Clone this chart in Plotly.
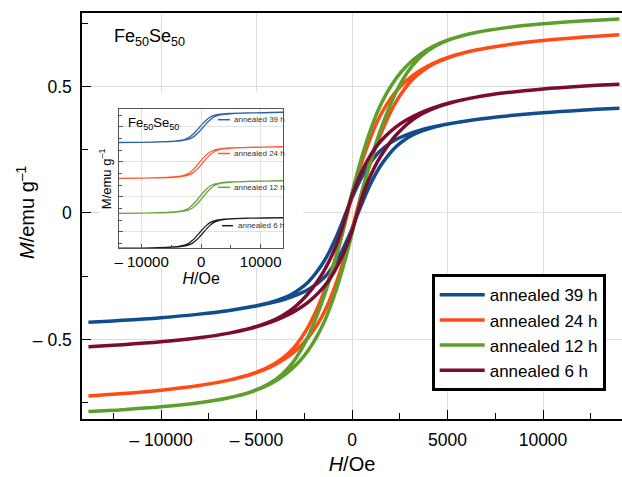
import plotly.graph_objects as go

FONT = "Liberation Sans, Arial, Helvetica, sans-serif"

# ---------------- main panel data (H in Oe, M in emu/g) ----------------
series_names = ["annealed 39 h", "annealed 24 h", "annealed 12 h", "annealed 6 h"]
series_colors = ["#114c8c", "#ff4b14", "#5c9f2b", "#7a0c30"]

# annealed 39 h
blue_M = [-0.4317, -0.4242, -0.4136, -0.3997, -0.3860, -0.3699, -0.3552, -0.3398, -0.3219,
          -0.3012, -0.2723, -0.2402, -0.1978, -0.1581, -0.1110, -0.0578, 0, 0.0553, 0.1062,
          0.1513, 0.1893, 0.2299, 0.2606, 0.2882, 0.3080, 0.3252, 0.3399, 0.3540, 0.3694,
          0.3825, 0.3958, 0.4059, 0.4138]
blue_H_asc = [-13800, -12000, -10000, -8000, -6500, -5174, -4236, -3488, -2824, -2260, -1712,
              -1280, -880, -580, -280, 20, 320, 620, 920, 1220, 1520, 1920, 2288, 2740, 3176,
              3712, 4364, 5226, 6500, 8000, 10000, 12000, 14000]
blue_H_desc = [-13800, -12000, -10000, -8000, -6500, -5226, -4364, -3712, -3176, -2740, -2288,
               -1920, -1520, -1220, -920, -620, -320, -20, 280, 580, 880, 1280, 1712, 2260,
               2824, 3488, 4236, 5174, 6500, 8000, 10000, 12000, 14000]

# annealed 24 h
orange_M = [-0.7227, -0.7134, -0.7002, -0.6816, -0.6615, -0.6353, -0.6079, -0.5766, -0.5389,
            -0.4955, -0.4379, -0.3788, -0.3062, -0.2423, -0.1700, -0.0890, 0, 0.0866, 0.1654,
            0.2357, 0.2979, 0.3685, 0.4260, 0.4820, 0.5242, 0.5609, 0.5913, 0.6180, 0.6435,
            0.6630, 0.6811, 0.6940, 0.7039]
orange_H_asc = [-13800, -12000, -10000, -8000, -6500, -5182, -4254, -3519, -2873, -2327, -1793,
                -1370, -970, -670, -370, -70, 230, 530, 830, 1130, 1430, 1830, 2207, 2673,
                3127, 3681, 4346, 5218, 6500, 8000, 10000, 12000, 14000]
orange_H_desc = [-13800, -12000, -10000, -8000, -6500, -5218, -4346, -3681, -3127, -2673,
                 -2207, -1830, -1430, -1130, -830, -530, -230, 70, 370, 670, 970, 1370, 1793,
                 2327, 2873, 3519, 4254, 5182, 6500, 8000, 10000, 12000, 14000]

# annealed 12 h
green_M = [-0.7846, -0.7770, -0.7658, -0.7496, -0.7310, -0.7047, -0.6748, -0.6391, -0.5950,
           -0.5447, -0.4780, -0.4106, -0.3292, -0.2587, -0.1800, -0.0937, 0, 0.0914, 0.1756,
           0.2524, 0.3212, 0.4006, 0.4663, 0.5314, 0.5805, 0.6235, 0.6583, 0.6875, 0.7132,
           0.7313, 0.7471, 0.7580, 0.7662]
green_H_asc = [-13800, -12000, -10000, -8000, -6500, -5179, -4248, -3509, -2857, -2305, -1766,
               -1340, -940, -640, -340, -40, 260, 560, 860, 1160, 1460, 1860, 2234, 2695,
               3143, 3691, 4352, 5221, 6500, 8000, 10000, 12000, 14000]
green_H_desc = [-13800, -12000, -10000, -8000, -6500, -5221, -4352, -3691, -3143, -2695,
                -2234, -1860, -1460, -1160, -860, -560, -260, 40, 340, 640, 940, 1340, 1766,
                2305, 2857, 3509, 4248, 5179, 6500, 8000, 10000, 12000, 14000]

# annealed 6 h
maroon_M = [-0.5281, -0.5204, -0.5091, -0.4930, -0.4756, -0.4534, -0.4315, -0.4080, -0.3812,
            -0.3521, -0.3148, -0.2772, -0.2304, -0.1880, -0.1373, -0.0761, 0, 0.0732, 0.1321,
            0.1809, 0.2218, 0.2668, 0.3030, 0.3389, 0.3669, 0.3927, 0.4153, 0.4364, 0.4577,
            0.4745, 0.4900, 0.5009, 0.5090]
maroon_H_asc = [-13800, -12000, -10000, -8000, -6500, -5178, -4244, -3502, -2846, -2290, -1748,
                -1320, -920, -620, -320, -20, 280, 580, 880, 1180, 1480, 1880, 2252, 2710,
                3154, 3698, 4356, 5222, 6500, 8000, 10000, 12000, 14000]
maroon_H_desc = [-13800, -12000, -10000, -8000, -6500, -5222, -4356, -3698, -3154, -2710,
                 -2252, -1880, -1480, -1180, -880, -580, -280, 20, 320, 620, 920, 1320, 1748,
                 2290, 2846, 3502, 4244, 5178, 6500, 8000, 10000, 12000, 14000]

main_x_ticks = [-10000, -5000, 0, 5000, 10000]
main_x_ticktext = ["\u2013 10000", "\u2013 5000", "0", "5000", "10000"]
main_x_minor = [-12500, -7500, -2500, 2500, 7500, 12500]
main_y_ticks = [-0.5, 0, 0.5]
main_y_ticktext = ["\u2013 0.5", "0", "0.5"]
main_y_minor = [-0.75, -0.25, 0.25, 0.75]

# ---------------- inset data (stacked, offset loops) ----------------
inset_names = ["annealed 39 h", "annealed 24 h", "annealed 12 h", "annealed 6 h"]
inset_colors = ["#2b62a5", "#ff5a32", "#64a83b", "#1e1e1e"]
inset_H_asc = [-13800, -7700, -4700, -3200, -2200, -1500, -900, -300, 300, 900, 1500,
               2100, 2800, 3800, 5300, 8300, 13800]
inset_H_desc = [-13800, -8300, -5300, -3800, -2800, -2100, -1500, -900, -300, 300, 900,
                1500, 2200, 3200, 4700, 7700, 13800]
inset_blue = [2.553, 2.566, 2.583, 2.605, 2.639, 2.691, 2.768, 2.867, 2.983, 3.099, 3.198,
              3.275, 3.327, 3.361, 3.383, 3.400, 3.413]
inset_orange = [1.527, 1.541, 1.559, 1.581, 1.617, 1.671, 1.752, 1.856, 1.977, 2.099, 2.202,
                2.283, 2.337, 2.373, 2.396, 2.414, 2.427]
inset_green = [0.524, 0.538, 0.557, 0.580, 0.617, 0.673, 0.757, 0.864, 0.990, 1.116, 1.223,
               1.307, 1.363, 1.400, 1.423, 1.442, 1.456]
inset_black = [-0.472, -0.459, -0.441, -0.420, -0.385, -0.332, -0.254, -0.154, -0.036, 0.082,
               0.182, 0.260, 0.313, 0.348, 0.369, 0.387, 0.400]
inset_x_ticks = [-10000, 0, 10000]
inset_x_ticktext = ["\u2013 10000", "0", "10000"]

fig = go.Figure()

main_sets = [
    (blue_H_desc, blue_H_asc, blue_M),
    (orange_H_desc, orange_H_asc, orange_M),
    (green_H_desc, green_H_asc, green_M),
    (maroon_H_desc, maroon_H_asc, maroon_M),
]
for (hd, ha, m), name, col in zip(main_sets, series_names, series_colors):
    x = list(reversed(hd)) + ha[1:]
    y = list(reversed(m)) + m[1:]
    fig.add_trace(go.Scatter(x=x, y=y, mode="lines", name=name,
                             line=dict(color=col, width=3.5, shape="spline", smoothing=1.0),
                             xaxis="x", yaxis="y"))

inset_sets = [inset_blue, inset_orange, inset_green, inset_black]
for m, name, col in zip(inset_sets, inset_names, inset_colors):
    x = list(reversed(inset_H_desc)) + inset_H_asc[1:]
    y = list(reversed(m)) + m[1:]
    fig.add_trace(go.Scatter(x=x, y=y, mode="lines", name=name, showlegend=False,
                             line=dict(color=col, width=1.3, shape="spline", smoothing=0.8),
                             xaxis="x2", yaxis="y2"))

W, H = 622, 477
ML, MR, MT, MB = 82, 0, 13, 58
PW, PH = W - ML - MR, H - MT - MB


def px(xp):
    return (xp - ML) / PW


def py(yp):
    return (H - MB - yp) / PH


shapes = [
    # white backing of the inset picture (hides main grid behind it)
    dict(type="rect", xref="x", yref="y", x0=-13200, x1=-2560, y0=-0.217, y1=0.478,
         fillcolor="white", line=dict(width=0), layer="between"),
]
annotations = [
    dict(text="<i>M</i>/emu g<sup>\u20131</sup>", xref="paper", yref="paper",
         x=px(25), y=py(212), xanchor="center", yanchor="middle", textangle=-90,
         showarrow=False, font=dict(family=FONT, size=20, color="black")),
    dict(text="Fe<sub>50</sub>Se<sub>50</sub>", xref="paper", yref="paper",
         x=px(112), y=py(37), xanchor="left", yanchor="middle", showarrow=False,
         font=dict(family=FONT, size=18, color="black")),
    dict(text="Fe<sub>50</sub>Se<sub>50</sub>", xref="paper", yref="paper",
         x=px(126), y=py(123), xanchor="left", yanchor="middle", showarrow=False,
         font=dict(family=FONT, size=13, color="black")),
]
inset_leg = [
    ("annealed 39 h", inset_colors[0], 218, 230, 119.7, 232),
    ("annealed 24 h", inset_colors[1], 218, 230, 153.5, 232),
    ("annealed 12 h", inset_colors[2], 218, 230, 187.3, 232),
    ("annealed 6 h", inset_colors[3], 222, 233, 225.7, 236),
]
for txt, col, x0, x1, yy, xt in inset_leg:
    shapes.append(dict(type="line", xref="paper", yref="paper", x0=px(x0), x1=px(x1),
                       y0=py(yy), y1=py(yy), line=dict(color=col, width=1.5), layer="above"))
    annotations.append(dict(text=txt, xref="paper", yref="paper", x=px(xt), y=py(yy),
                            xanchor="left", yanchor="middle", showarrow=False,
                            font=dict(family=FONT, size=8, color="#333333")))

axis_common = dict(showline=True, linecolor="black", linewidth=1.5, ticks="inside",
                   tickcolor="black", tickwidth=1.2, zeroline=False, showgrid=True,
                   gridcolor="#dcdcdc", gridwidth=1, automargin=False)

fig.update_layout(
    width=W, height=H,
    margin=dict(l=ML, r=MR, t=MT, b=MB),
    paper_bgcolor="white", plot_bgcolor="white",
    font=dict(family=FONT, color="black"),
    xaxis=dict(**axis_common, domain=[0, 1], anchor="y", range=[-14136, 14136],
               mirror=True, tickmode="array", tickvals=main_x_ticks,
               ticktext=main_x_ticktext, ticklen=9, ticklabelstandoff=4,
               tickfont=dict(size=17.5),
               minor=dict(tickmode="array", tickvals=main_x_minor, ticks="inside",
                          ticklen=6, tickcolor="black", showgrid=False),
               title=dict(text="<i>H</i>/Oe", font=dict(size=20), standoff=8)),
    yaxis=dict(**axis_common, domain=[0, 1], anchor="x", range=[-0.814, 0.79],
               tickmode="array", tickvals=main_y_ticks, ticktext=main_y_ticktext,
               ticklen=9, ticklabelstandoff=5, tickfont=dict(size=17.5),
               minor=dict(tickmode="array", tickvals=main_y_minor, ticks="inside",
                          ticklen=6, tickcolor="black", showgrid=False)),
    xaxis2=dict(showline=True, linecolor="#555555", linewidth=1, mirror=True,
                ticks="inside", ticklen=4, tickcolor="#555555", zeroline=False,
                showgrid=True, gridcolor="#e2e2e2", automargin=False,
                domain=[px(119), px(283.3)], anchor="y2", range=[-13800, 13800],
                tickmode="array", tickvals=inset_x_ticks, ticktext=inset_x_ticktext,
                tickfont=dict(size=15),
                minor=dict(tickmode="array", tickvals=[-5000, 5000], ticks="inside",
                           ticklen=3, tickcolor="#555555"),
                title=dict(text="<i>H</i>/Oe", font=dict(size=16), standoff=2)),
    yaxis2=dict(showline=True, linecolor="#555555", linewidth=1, mirror=True,
                ticks="inside", ticklen=4, tickcolor="#555555", zeroline=False,
                showgrid=True, gridcolor="#e2e2e2", automargin=False,
                domain=[py(248.3), py(109.3)], anchor="x2", range=[-0.474, 3.503],
                tickmode="array", tickvals=[0, 1, 2, 3], showticklabels=False,
                minor=dict(tickmode="array",
                           tickvals=[-1/3, 1/3, 2/3, 4/3, 5/3, 7/3, 8/3, 10/3],
                           ticks="inside", ticklen=3, tickcolor="#555555"),
                title=dict(text="M/emu g<sup>\u20131</sup>", font=dict(size=13), standoff=3)),
    legend=dict(x=px(431.7), y=py(274.3), xanchor="left", yanchor="top",
                bgcolor="white", bordercolor="black", borderwidth=3, itemwidth=45,
                font=dict(family=FONT, size=17, color="black"), tracegroupgap=0),
    shapes=shapes,
    annotations=annotations,
    showlegend=True,
)

fig.write_html("out.html", config={"responsive": False, "displayModeBar": False},
               post_script="document.body.style.margin='0px';")
